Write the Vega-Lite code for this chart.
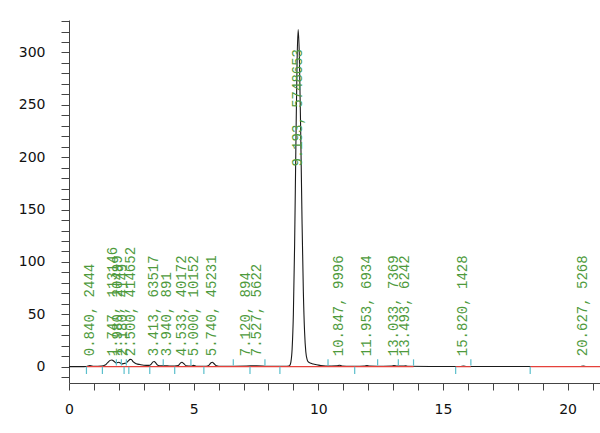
{
  "$schema": "https://vega.github.io/schema/vega-lite/v6.json",
  "width": 531,
  "height": 363,
  "autosize": "none",
  "padding": {"left": 69, "top": 20, "right": 0, "bottom": 50},
  "background": "white",
  "config": {
    "view": {"stroke": null},
    "axis": {"ticks": true, "domain": true, "domainColor": "#444", "tickColor": "#444", "tickWidth": 1, "domainWidth": 1, "grid": false, "title": null,
             "labelFont": "DejaVu Sans", "labelFontSize": 14, "labelColor": "#111", "labelOverlap": false, "labelFlush": false}
  },
  "resolve": {"axis": {"x": "independent", "y": "independent"}},
  "datasets": {
    "signal": [
      {"t": 0.0, "v": 0}, {"t": 0.5, "v": 0}, {"t": 0.7, "v": 0.2}, {"t": 0.84, "v": 1.0}, {"t": 1.0, "v": 0.3},
      {"t": 1.3, "v": 0.5}, {"t": 1.45, "v": 1.5}, {"t": 1.55, "v": 3.8}, {"t": 1.65, "v": 6.0}, {"t": 1.72, "v": 6.4},
      {"t": 1.8, "v": 5.2}, {"t": 1.88, "v": 3.6}, {"t": 1.95, "v": 3.9}, {"t": 2.0, "v": 4.2}, {"t": 2.06, "v": 3.5},
      {"t": 2.12, "v": 2.7}, {"t": 2.2, "v": 3.0}, {"t": 2.3, "v": 3.6}, {"t": 2.38, "v": 5.5}, {"t": 2.45, "v": 7.0},
      {"t": 2.5, "v": 6.8}, {"t": 2.58, "v": 4.5}, {"t": 2.7, "v": 2.8}, {"t": 2.85, "v": 2.0}, {"t": 3.0, "v": 1.4},
      {"t": 3.2, "v": 1.2}, {"t": 3.3, "v": 2.5}, {"t": 3.37, "v": 4.6}, {"t": 3.42, "v": 5.0}, {"t": 3.48, "v": 3.5},
      {"t": 3.56, "v": 1.3}, {"t": 3.7, "v": 0.8}, {"t": 3.94, "v": 0.8}, {"t": 4.1, "v": 0.5}, {"t": 4.38, "v": 1.0},
      {"t": 4.46, "v": 3.2}, {"t": 4.53, "v": 4.2}, {"t": 4.6, "v": 3.0}, {"t": 4.7, "v": 0.8}, {"t": 4.9, "v": 0.5},
      {"t": 5.0, "v": 1.2}, {"t": 5.1, "v": 0.4}, {"t": 5.5, "v": 0.3}, {"t": 5.62, "v": 1.5}, {"t": 5.7, "v": 3.8},
      {"t": 5.75, "v": 4.2}, {"t": 5.82, "v": 2.8}, {"t": 5.92, "v": 0.8}, {"t": 6.1, "v": 0.3}, {"t": 7.12, "v": 0.6},
      {"t": 7.527, "v": 0.9}, {"t": 8.0, "v": 0.3}, {"t": 8.5, "v": 0.3}, {"t": 8.7, "v": 0.3}, {"t": 8.8, "v": 0.5},
      {"t": 8.85, "v": 1.0}, {"t": 8.9, "v": 4.4}, {"t": 8.95, "v": 16.8}, {"t": 9.0, "v": 50}, {"t": 9.05, "v": 116},
      {"t": 9.1, "v": 209}, {"t": 9.15, "v": 293}, {"t": 9.193, "v": 322}, {"t": 9.24, "v": 297}, {"t": 9.3, "v": 215},
      {"t": 9.35, "v": 136}, {"t": 9.4, "v": 72}, {"t": 9.45, "v": 33}, {"t": 9.5, "v": 14}, {"t": 9.55, "v": 7},
      {"t": 9.6, "v": 4.5}, {"t": 9.7, "v": 3.2}, {"t": 9.8, "v": 2.5}, {"t": 9.95, "v": 1.8}, {"t": 10.1, "v": 1.0},
      {"t": 10.3, "v": 0.6}, {"t": 10.75, "v": 0.8}, {"t": 10.847, "v": 1.3}, {"t": 10.95, "v": 0.7}, {"t": 11.3, "v": 0.4},
      {"t": 11.85, "v": 0.5}, {"t": 11.953, "v": 1.0}, {"t": 12.05, "v": 0.5}, {"t": 12.6, "v": 0.4}, {"t": 12.95, "v": 0.5},
      {"t": 13.033, "v": 1.0}, {"t": 13.15, "v": 0.5}, {"t": 13.4, "v": 0.5}, {"t": 13.493, "v": 0.9}, {"t": 13.6, "v": 0.4},
      {"t": 14.5, "v": 0.2}, {"t": 15.7, "v": 0.2}, {"t": 15.82, "v": 0.6}, {"t": 15.95, "v": 0.2}, {"t": 18.0, "v": 0.1},
      {"t": 20.5, "v": 0.2}, {"t": 20.627, "v": 0.6}, {"t": 20.75, "v": 0.2}, {"t": 21.3, "v": 0.2}
    ],
    "baselines": [
      {"from": 0.70, "to": 13.82},
      {"from": 15.51, "to": 16.12},
      {"from": 18.5, "to": 21.3}
    ],
    "markers": [
      {"t": 0.70, "kind": "start"}, {"t": 1.34, "kind": "start"}, {"t": 1.90, "kind": "end"}, {"t": 2.10, "kind": "end"},
      {"t": 2.21, "kind": "start"}, {"t": 2.30, "kind": "end"}, {"t": 2.40, "kind": "start"}, {"t": 3.24, "kind": "start"},
      {"t": 3.78, "kind": "end"}, {"t": 4.24, "kind": "start"}, {"t": 4.89, "kind": "end"}, {"t": 5.41, "kind": "start"},
      {"t": 6.59, "kind": "end"}, {"t": 7.26, "kind": "start"}, {"t": 7.86, "kind": "end"}, {"t": 8.46, "kind": "start"},
      {"t": 10.39, "kind": "end"}, {"t": 11.46, "kind": "start"}, {"t": 12.38, "kind": "end"}, {"t": 13.21, "kind": "end"},
      {"t": 13.82, "kind": "end"}, {"t": 15.51, "kind": "start"}, {"t": 16.12, "kind": "end"}, {"t": 18.5, "kind": "start"}
    ],
    "peaks": [
      {"rt": 0.840, "label": "0.840, 2444"},
      {"rt": 1.747, "label": "1.747, 113146"},
      {"rt": 1.980, "label": "1.980, 20499"},
      {"rt": 2.180, "label": "2.180, 4149"},
      {"rt": 2.500, "label": "2.500, 414652"},
      {"rt": 3.413, "label": "3.413, 63517"},
      {"rt": 3.940, "label": "3.940, 891"},
      {"rt": 4.533, "label": "4.533, 40172"},
      {"rt": 5.000, "label": "5.000, 10152"},
      {"rt": 5.740, "label": "5.740, 45231"},
      {"rt": 7.120, "label": "7.120, 894"},
      {"rt": 7.527, "label": "7.527, 5622"},
      {"rt": 9.193, "label": "9.193, 5748653"},
      {"rt": 10.847, "label": "10.847, 9996"},
      {"rt": 11.953, "label": "11.953, 6934"},
      {"rt": 13.033, "label": "13.033, 7369"},
      {"rt": 13.493, "label": "13.493, 6242"},
      {"rt": 15.820, "label": "15.820, 1428"},
      {"rt": 20.627, "label": "20.627, 5268"}
    ]
  },
  "layer": [
    {
      "data": {"name": "signal"},
      "mark": {"type": "line", "color": "#1a1a1a", "strokeWidth": 1.1, "clip": true, "interpolate": "monotone"},
      "encoding": {
        "x": {
          "field": "t", "type": "quantitative",
          "scale": {"domain": [0, 21.3], "nice": false, "zero": false},
          "axis": {
            "orient": "bottom", "ticks": true, "format": "d",
            "values": [0,0.5,1,1.5,2,2.5,3,3.5,4,4.5,5,5.5,6,6.5,7,7.5,8,8.5,9,9.5,10,10.5,11,11.5,12,12.5,13,13.5,14,14.5,15,15.5,16,16.5,17,17.5,18,18.5,19,19.5,20,20.5,21],
            "labelExpr": "datum.value % 5 === 0 ? format(datum.value, 'd') : ''",
            "tickSize": 7, "labelPadding": 12
          }
        },
        "y": {
          "field": "v", "type": "quantitative",
          "scale": {"domain": [-15.6, 331], "nice": false, "zero": false},
          "axis": {
            "orient": "left", "ticks": true, "format": "d",
            "values": [-10,0,10,20,30,40,50,60,70,80,90,100,110,120,130,140,150,160,170,180,190,200,210,220,230,240,250,260,270,280,290,300,310,320,330],
            "labelExpr": "datum.value % 50 === 0 && datum.value >= 0 ? format(datum.value, 'd') : ''",
            "tickSize": 8, "labelPadding": 16
          }
        }
      }
    },
    {
      "data": {"name": "baselines"},
      "mark": {"type": "rule", "color": "#e5413b", "strokeWidth": 1.2},
      "encoding": {
        "x": {"field": "from", "type": "quantitative", "axis": null},
        "x2": {"field": "to"},
        "y": {"datum": 0, "type": "quantitative", "axis": null}
      }
    },
    {
      "data": {"name": "markers"},
      "transform": [{"filter": "datum.kind === 'start'"}],
      "mark": {"type": "rule", "color": "#5bbfcc", "strokeWidth": 1.2},
      "encoding": {
        "x": {"field": "t", "type": "quantitative", "axis": null},
        "y": {"datum": 0, "type": "quantitative", "axis": null},
        "y2": {"datum": -7}
      }
    },
    {
      "data": {"name": "markers"},
      "transform": [{"filter": "datum.kind === 'end'"}],
      "mark": {"type": "rule", "color": "#5bbfcc", "strokeWidth": 1.2},
      "encoding": {
        "x": {"field": "t", "type": "quantitative", "axis": null},
        "y": {"datum": 1, "type": "quantitative", "axis": null},
        "y2": {"datum": 7}
      }
    },
    {
      "data": {"name": "peaks"},
      "transform": [{"filter": "datum.rt !== 9.193"}],
      "mark": {"type": "text", "angle": 270, "align": "left", "baseline": "middle", "font": "Liberation Mono", "fontSize": 14, "color": "#4e9a3c"},
      "encoding": {
        "x": {"field": "rt", "type": "quantitative", "axis": null},
        "y": {"datum": 10, "type": "quantitative", "axis": null},
        "text": {"field": "label"}
      }
    },
    {
      "data": {"name": "peaks"},
      "transform": [{"filter": "datum.rt === 9.193"}],
      "mark": {"type": "text", "angle": 270, "align": "left", "baseline": "middle", "font": "Liberation Mono", "fontSize": 14, "color": "#4e9a3c"},
      "encoding": {
        "x": {"field": "rt", "type": "quantitative", "axis": null},
        "y": {"datum": 191, "type": "quantitative", "axis": null},
        "text": {"field": "label"}
      }
    }
  ]
}
